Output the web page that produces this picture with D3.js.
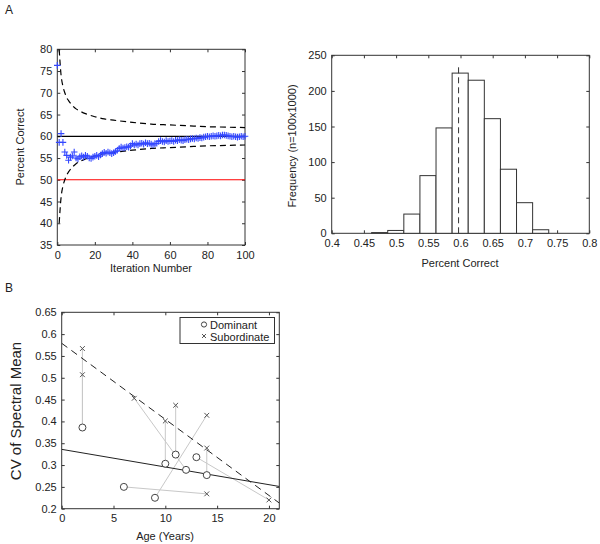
<!DOCTYPE html>
<html><head><meta charset="utf-8">
<script src="https://cdn.jsdelivr.net/npm/d3@7"></script>
<style>
body{margin:0;background:#fff;}
text{font-family:"Liberation Sans",Arial,sans-serif;}
</style></head>
<body><svg id="c" width="600" height="544"></svg>
<script>
// ---------- Panel A (left): running percent correct ----------
const iterX = d3.range(0, 101);
const percentCorrect = [76.3,58.6,60.6,58.6,56.4,55.6,54.5,55.2,55.5,56.4,
 55.0,54.8,55.3,55.5,55.2,55.6,55.4,55.0,54.9,55.2,
 55.4,55.6,55.3,55.7,56.0,56.3,56.1,56.4,56.2,56.0,
 56.2,56.5,56.8,57.2,57.5,57.3,57.4,57.6,57.5,57.8,
 58.3,58.0,58.2,58.0,58.3,58.4,58.2,58.5,58.3,58.4,
 58.2,58.0,58.3,58.4,58.8,59.0,58.8,58.7,59.0,58.8,
 58.9,59.0,58.8,59.1,59.0,59.2,59.1,59.0,59.2,59.3,
 59.2,59.4,59.5,59.4,59.6,59.5,59.7,59.6,59.8,59.9,
 60.0,59.9,60.0,60.1,60.0,60.1,60.2,60.1,60.3,60.3,
 60.2,60.1,60.0,59.9,60.0,59.9,59.8,59.9,60.0,59.9,60.0];
const boundX = [1,2,3,4,5,6,8,10,12,15,20,25,30,40,50,60,70,80,90,100];
const upperBound = [80,74.1,71.5,70,68.9,68.2,67.1,66.3,65.8,65.2,64.5,64,63.7,63.2,62.8,62.6,62.4,62.2,62.1,62];
const lowerBound = [40,45.9,48.5,50,51.1,51.8,52.9,53.7,54.2,54.8,55.5,56,56.3,56.8,57.2,57.4,57.6,57.8,57.9,58];
const expectedLine = 60, chanceLine = 50;
const aXTicks = [0,20,40,60,80,100];
const aYTicks = [35,40,45,50,55,60,65,70,75,80];

// ---------- Panel A (right): histogram ----------
const binStarts = [0.462,0.487,0.512,0.537,0.562,0.587,0.612,0.637,0.662,0.687,0.712];
const binWidth = 0.025;
const binCounts = [1,4,27,81,148,225,215,161,90,43,5];
const observedValue = 0.597, observedTop = 236;
const hXTicks = [0.4,0.45,0.5,0.55,0.6,0.65,0.7,0.75,0.8];
const hYTicks = [0,50,100,150,200,250];

// ---------- Panel B ----------
const domAge = [2,6,9,10,11,12,13,14];
const domCV  = [0.386,0.250,0.225,0.303,0.324,0.289,0.318,0.277];
const subAge = [2,2,7,10,11,14,14,14,20];
const subCV  = [0.567,0.507,0.453,0.401,0.437,0.414,0.339,0.234,0.220];
// pair links: [dominant index, subordinate index]
const pairs = [[0,0],[0,1],[5,2],[3,3],[4,4],[2,5],[7,6],[1,7],[6,8]];
const domFit = [[0,0.336],[21,0.251]];
const subFit = [[0,0.579],[21,0.213]];
const bXTicks = [0,5,10,15,20];
const bYTicks = [0.2,0.25,0.3,0.35,0.4,0.45,0.5,0.55,0.6,0.65];
const legendItems = ["Dominant","Subordinate"];

const svg = d3.select("#c");
const FS = 11, TXT = "#222", AX = "#333";

function frame(g, x, y, xt, yt, fmtX, fmtY, clipId){
  const [x0,x1] = x.range(), [y0,y1] = y.range();
  g.append("g").attr("transform",`translate(0,${y0})`)
    .call(d3.axisBottom(x).tickValues(xt).tickSize(-3).tickPadding(6).tickFormat(fmtX));
  g.append("g").attr("transform",`translate(0,${y1})`)
    .call(d3.axisTop(x).tickValues(xt).tickSize(-3).tickFormat(""));
  g.append("g").attr("transform",`translate(${x0},0)`)
    .call(d3.axisLeft(y).tickValues(yt).tickSize(-3).tickPadding(5).tickFormat(fmtY));
  g.append("g").attr("transform",`translate(${x1},0)`)
    .call(d3.axisRight(y).tickValues(yt).tickSize(-3).tickFormat(""));
  g.selectAll(".domain").remove();
  g.selectAll(".tick line").attr("stroke",AX);
  g.selectAll(".tick text").attr("font-size",FS).attr("fill",TXT).attr("font-family","Liberation Sans, Arial, sans-serif");
  g.append("rect").attr("x",x0).attr("y",y1).attr("width",x1-x0).attr("height",y0-y1)
    .attr("fill","none").attr("stroke",AX).attr("stroke-width",1);
  g.append("clipPath").attr("id",clipId).append("rect")
    .attr("x",x0).attr("y",y1).attr("width",x1-x0).attr("height",y0-y1);
}
function label(t,x,y,rot,fs){
  const e = svg.append("text").attr("font-size",fs||FS).attr("fill",TXT).attr("text-anchor","middle").text(t);
  if(rot) e.attr("transform",`translate(${x},${y}) rotate(-90)`);
  else e.attr("x",x).attr("y",y);
  return e;
}
const fmtAuto = d => d3.format("")(+d.toFixed(2));

// Panel labels
svg.append("text").attr("x",5).attr("y",14).attr("font-size",12).attr("fill",TXT).text("A");
svg.append("text").attr("x",5).attr("y",292).attr("font-size",12).attr("fill",TXT).text("B");

// ===== Panel A left =====
{
  const x = d3.scaleLinear().domain([0,100]).range([57.3,245]);
  const y = d3.scaleLinear().domain([35,80]).range([245,49.3]);
  const g = svg.append("g");
  frame(g,x,y,aXTicks,aYTicks,d3.format("d"),d3.format("d"),"clipA");
  const p = g.append("g").attr("clip-path","url(#clipA)");
  p.append("line").attr("x1",x(0)).attr("x2",x(100)).attr("y1",y(chanceLine)).attr("y2",y(chanceLine))
    .attr("stroke","#ff0000").attr("stroke-width",1.2);
  p.append("line").attr("x1",x(0)).attr("x2",x(100)).attr("y1",y(expectedLine)).attr("y2",y(expectedLine))
    .attr("stroke","#000").attr("stroke-width",1.2);
  const ln = d3.line().x(d=>x(d[0])).y(d=>y(d[1])).curve(d3.curveMonotoneX);
  [upperBound,lowerBound].forEach(b=>{
    p.append("path").attr("d",ln(boundX.map((v,i)=>[v,b[i]])))
      .attr("fill","none").attr("stroke","#000").attr("stroke-width",1.2).attr("stroke-dasharray","6,4");
  });
  const s = 3.3;
  g.append("g").selectAll("path").data(iterX).join("path")
    .attr("d",d=>{const cx=x(d), cy=y(percentCorrect[d]);return `M${cx-s},${cy}H${cx+s}M${cx},${cy-s}V${cy+s}`;})
    .attr("stroke","#3347ff").attr("stroke-width",1.1).attr("fill","none");
  label("Percent Correct",24,147,true);
  label("Iteration Number",151,272);
}

// ===== Panel A right =====
{
  const x = d3.scaleLinear().domain([0.4,0.8]).range([331.7,589.3]);
  const y = d3.scaleLinear().domain([0,250]).range([233.3,55.3]);
  const g = svg.append("g");
  frame(g,x,y,hXTicks,hYTicks,fmtAuto,d3.format("d"),"clipH");
  g.append("g").selectAll("rect").data(binStarts).join("rect")
    .attr("x",d=>x(d)).attr("width",(d)=>x(d+binWidth)-x(d))
    .attr("y",(d,i)=>y(binCounts[i])).attr("height",(d,i)=>y(0)-y(binCounts[i]))
    .attr("fill","#fff").attr("stroke","#333").attr("stroke-width",1);
  g.append("line").attr("x1",x(observedValue)).attr("x2",x(observedValue))
    .attr("y1",y(0)).attr("y2",y(observedTop))
    .attr("stroke","#333").attr("stroke-width",1).attr("stroke-dasharray","6,4");
  label("Percent Correct",460,267);
  label("Frequency (n=100x1000)",296,146,true);
}

// ===== Panel B =====
{
  const x = d3.scaleLinear().domain([0,21]).range([61.7,279.3]);
  const y = d3.scaleLinear().domain([0.2,0.65]).range([508.7,312.3]);
  const g = svg.append("g");
  frame(g,x,y,bXTicks,bYTicks,d3.format("d"),fmtAuto,"clipB");
  g.append("g").selectAll("line").data(pairs).join("line")
    .attr("x1",d=>x(domAge[d[0]])).attr("y1",d=>y(domCV[d[0]]))
    .attr("x2",d=>x(subAge[d[1]])).attr("y2",d=>y(subCV[d[1]]))
    .attr("stroke","#c8c8c8").attr("stroke-width",1);
  const p = g.append("g").attr("clip-path","url(#clipB)");
  const ln = d3.line().x(d=>x(d[0])).y(d=>y(d[1]));
  p.append("path").attr("d",ln(domFit)).attr("stroke","#222").attr("stroke-width",1).attr("fill","none");
  p.append("path").attr("d",ln(subFit)).attr("stroke","#222").attr("stroke-width",1).attr("fill","none")
    .attr("stroke-dasharray","7,5");
  g.append("g").selectAll("circle").data(domAge).join("circle")
    .attr("cx",d=>x(d)).attr("cy",(d,i)=>y(domCV[i])).attr("r",3.5)
    .attr("fill","#fff").attr("stroke","#444").attr("stroke-width",1);
  const s=2.4;
  g.append("g").selectAll("path").data(subAge).join("path")
    .attr("d",(d,i)=>{const cx=x(d), cy=y(subCV[i]);return `M${cx-s},${cy-s}L${cx+s},${cy+s}M${cx-s},${cy+s}L${cx+s},${cy-s}`;})
    .attr("stroke","#555").attr("stroke-width",1).attr("fill","none");
  // legend
  const lg = g.append("g");
  lg.append("rect").attr("x",180).attr("y",317.5).attr("width",94.5).attr("height",26)
    .attr("fill","#fff").attr("stroke","#333");
  lg.append("circle").attr("cx",204).attr("cy",324.5).attr("r",2.6).attr("fill","none").attr("stroke","#444");
  lg.append("path").attr("d",`M${202},${334}L${206},${338}M${202},${338}L${206},${334}`).attr("stroke","#555");
  legendItems.forEach((t,i)=>{
    lg.append("text").attr("x",210).attr("y",328.5+i*12).attr("font-size",FS).attr("fill",TXT).text(t);
  });
  label("CV of Spectral Mean",20.5,411,true,15);
  label("Age (Years)",165,540);
}
</script></body></html>
